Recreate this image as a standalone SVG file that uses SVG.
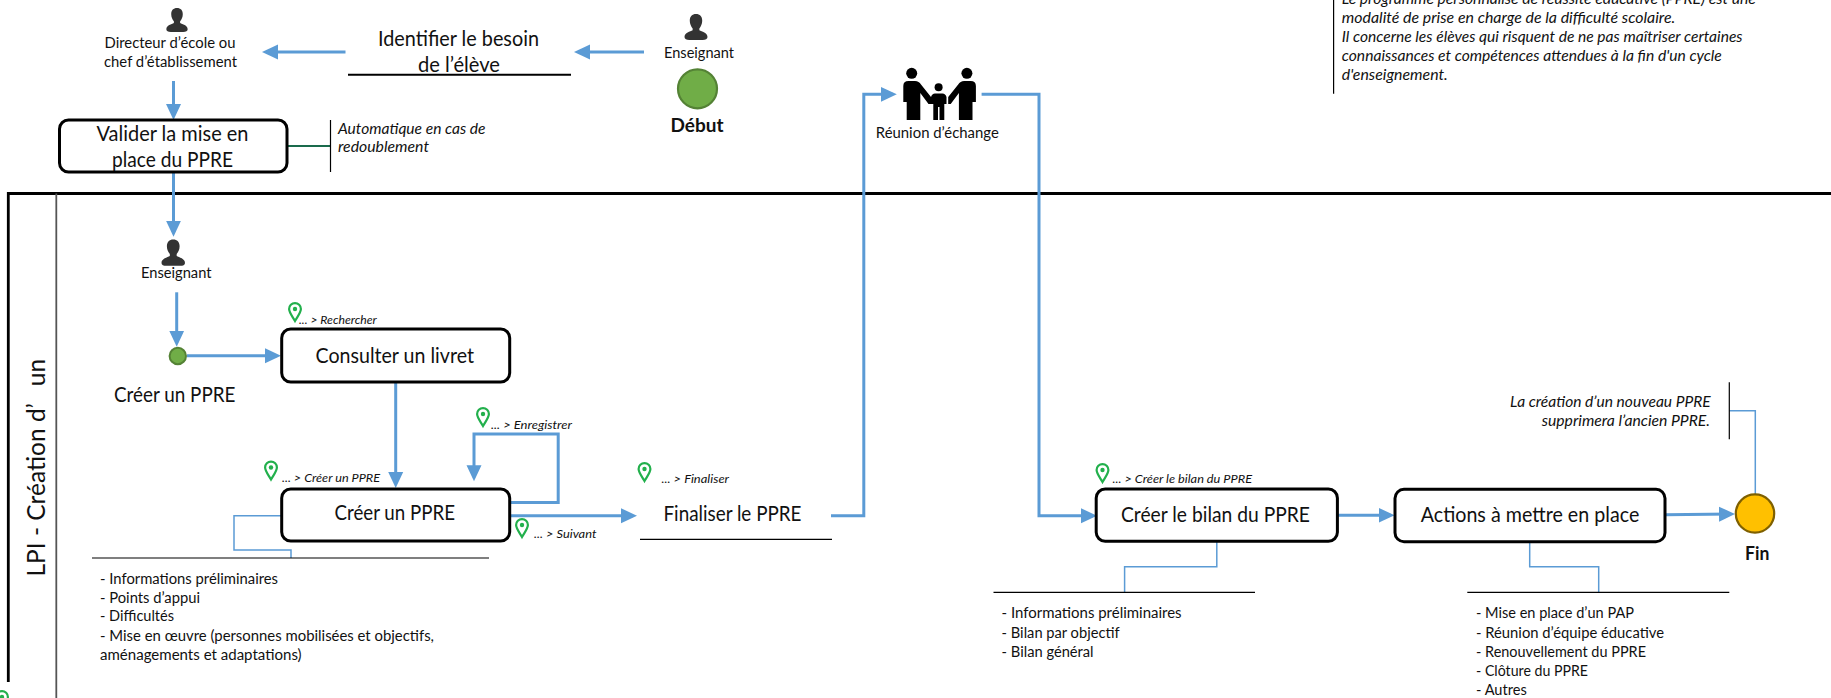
<svg xmlns="http://www.w3.org/2000/svg" width="1831" height="698" viewBox="0 0 1831 698">
<style>
text{font-family:"Lato","Open Sans","Liberation Sans",sans-serif;fill:#111}
.t20{font-size:20.5px}
.t14{font-size:14.5px}
.it{font-size:14.5px;font-style:italic}
.nav{font-size:11px;font-style:italic}
.b{font-size:18px;font-weight:700}
.box{fill:#fff;stroke:#000;stroke-width:3}
.flow{fill:none;stroke:#5B9BD5;stroke-width:3;marker-end:url(#ah)}
.thin{fill:none;stroke:#5B9BD5;stroke-width:1.5}
.rule{stroke:#000;stroke-width:1.2;fill:none}
.lane{stroke:#000;stroke-width:2.8;fill:none}
</style>
<defs>
<marker id="ah" markerUnits="userSpaceOnUse" markerWidth="17" markerHeight="17" refX="12" refY="8" orient="auto"><path d="M0,0.5 L16,8 L0,15.5 Z" fill="#5B9BD5"/></marker>
<symbol id="person" viewBox="0 0 24 27" overflow="visible"><path fill="#333" d="M12,0 C16,0 18.5,2.5 18.5,7 C18.5,10.5 17,13 15.5,15 L15.5,17 C18,18.5 24,19.5 24,24 C24,26 22,27 19,27 L5,27 C2,27 0,26 0,24 C0,19.5 6,18.5 8.5,17 L8.5,15 C7,13 5.5,10.5 5.5,7 C5.5,2.5 8,0 12,0 Z"/></symbol>
<symbol id="pin" viewBox="0 0 14 20" overflow="visible"><path fill="none" stroke="#22B04C" stroke-width="2.2" d="M7,19 C4.5,14.5 1.1,10.5 1.1,7 A5.9,5.9 0 0 1 12.9,7 C12.9,10.5 9.5,14.5 7,19 Z"/><circle cx="7" cy="7" r="2.2" fill="#22B04C"/></symbol>
</defs>

<g id="swimlane">
<path class="lane" d="M1831,193.5 H8.3 V682"/>
<path d="M56.3,193.5 V698" stroke="#555" stroke-width="1.8" fill="none"/>
<text class="lane-title" transform="translate(44.5,576.5) rotate(-90)" style="font-size:24.5px"><tspan>LPI - Création d’</tspan><tspan dx="17">un</tspan></text>
</g>

<g id="connectors">
<path class="flow" d="M345.5,52 H266"/>
<path class="flow" d="M644,52 H578"/>
<path class="flow" d="M173.5,81 V116"/>
<path class="flow" d="M173.5,172 V232.7"/>
<path class="flow" d="M176.7,292.3 V342.7"/>
<path class="flow" d="M187,355.7 H277"/>
<path class="flow" d="M395.7,382 V484"/>
<path class="flow" d="M509.7,502.5 H558.2 V434 H474 V477.3"/>
<path class="flow" d="M509.7,515.7 H633"/>
<path class="flow" d="M831,515.7 H863.8 V94.3 H892.8"/>
<path class="flow" d="M981.6,94.3 H1039 V515.7 H1093"/>
<path class="flow" d="M1337.4,515.3 H1390.6"/>
<path class="flow" d="M1665,514.7 L1731,514"/>
<path d="M287,146 H330.5" fill="none" stroke="#1A6B4C" stroke-width="2"/>
<path class="thin" d="M281.7,515.7 H234 V550 H291 V558"/>
<path class="thin" d="M1216.8,541 V566.7 H1124.6 V592.3"/>
<path class="thin" d="M1529.7,541.7 V566.7 H1598.7 V592.3"/>
<path class="thin" d="M1729.3,410.7 H1755.3 V494"/>
</g>

<g id="directeur">
<use href="#person" x="165" y="8" width="24" height="24"/>
<text class="t14" x="104.5" y="48" textLength="131" lengthAdjust="spacingAndGlyphs">Directeur d’école ou</text>
<text class="t14" x="104" y="67" textLength="133" lengthAdjust="spacingAndGlyphs">chef d’établissement</text>
</g>

<g id="identifier">
<text class="t20" x="378" y="45.7" textLength="161" lengthAdjust="spacingAndGlyphs">Identifier le besoin</text>
<text class="t20" x="418" y="71.7" textLength="82" lengthAdjust="spacingAndGlyphs">de l’élève</text>
<path d="M348,74.7 H571" stroke="#000" stroke-width="2" fill="none"/>
</g>

<g id="enseignant-debut">
<use href="#person" x="684.5" y="14" width="23" height="26"/>
<text class="t14" x="664" y="57.5" textLength="70" lengthAdjust="spacingAndGlyphs">Enseignant</text>
<circle cx="697.5" cy="88.8" r="19.5" fill="#70AD47" stroke="#548235" stroke-width="2.2"/>
<text class="b" x="670.5" y="131.7" textLength="53" lengthAdjust="spacingAndGlyphs">Début</text>
</g>

<g id="valider">
<rect class="box" x="59.5" y="120" width="227.5" height="52" rx="9"/>
<text class="t20" x="96.5" y="141" textLength="152" lengthAdjust="spacingAndGlyphs">Valider la mise en</text>
<text class="t20" x="112" y="166.7" textLength="121" lengthAdjust="spacingAndGlyphs">place du PPRE</text>
</g>

<g id="note-redoublement">
<path class="rule" d="M330.5,120 V172" stroke-width="1"/>
<text class="it" x="338" y="133.5" textLength="147.5" lengthAdjust="spacingAndGlyphs">Automatique en cas de</text>
<text class="it" x="338" y="152" textLength="91" lengthAdjust="spacingAndGlyphs">redoublement</text>
</g>

<g id="reunion">
<g fill="#000">
<circle cx="911.7" cy="73.3" r="5.5"/>
<circle cx="966.9" cy="73.3" r="5.5"/>
<circle cx="938.6" cy="87.3" r="4"/>
<path d="M903.3,102 V86 Q903.3,81 908.5,81 H915 Q919,81 921,84.5 L931,97 V104 L928.5,104 L920.3,93 V120 H906.7 V102 Z"/>
<path d="M975.9,102 V86 Q975.9,81 970.7,81 H964.2 Q960.2,81 958.2,84.5 L948.2,97 V104 L950.7,104 L958.9,93 V120 H972.5 V102 Z"/>
<path d="M933.3,120 V104 H931 V97 Q932,93.5 935,93.5 H942.5 Q945.5,93.5 946.5,97 V104 H944.3 V120 Z"/>
</g>
<rect x="938" y="107" width="1.5" height="13" fill="#fff"/>
<text class="t14" x="875.8" y="138.3" textLength="123" lengthAdjust="spacingAndGlyphs">Réunion d’échange</text>
</g>

<g id="note-ppre">
<path class="rule" d="M1333.6,0 V93.7" stroke="#333" stroke-width="1"/>
<text class="it" x="1341.8" y="3.5" textLength="414" lengthAdjust="spacingAndGlyphs">Le programme personnalisé de réussite éducative (PPRE) est une</text>
<text class="it" x="1341.8" y="22.7" textLength="333.5" lengthAdjust="spacingAndGlyphs">modalité de prise en charge de la difficulté scolaire.</text>
<text class="it" x="1341.8" y="41.5" textLength="400.8" lengthAdjust="spacingAndGlyphs">Il concerne les élèves qui risquent de ne pas maîtriser certaines</text>
<text class="it" x="1341.8" y="60.7" textLength="380" lengthAdjust="spacingAndGlyphs">connaissances et compétences attendues à la fin d'un cycle</text>
<text class="it" x="1341.8" y="80" textLength="106" lengthAdjust="spacingAndGlyphs">d'enseignement.</text>
</g>

<g id="enseignant-2">
<use href="#person" x="161.5" y="239.3" width="23.5" height="26.7"/>
<text class="t14" x="141" y="278.3" textLength="70.5" lengthAdjust="spacingAndGlyphs">Enseignant</text>
</g>

<g id="creer-start">
<circle cx="177.8" cy="356" r="8.2" fill="#70AD47" stroke="#548235" stroke-width="2"/>
<text class="t20" x="114" y="401.7" textLength="121.4" lengthAdjust="spacingAndGlyphs">Créer un PPRE</text>
</g>

<g id="consulter">
<rect class="box" x="281.7" y="329" width="228" height="53" rx="9"/>
<text class="t20" x="315.5" y="363.3" textLength="158.5" lengthAdjust="spacingAndGlyphs">Consulter un livret</text>
<use href="#pin" x="288" y="302" width="14" height="20"/>
<text class="nav" x="299" y="324" textLength="77.7" lengthAdjust="spacingAndGlyphs">... &gt; Rechercher</text>
</g>

<g id="creer">
<rect class="box" x="281.7" y="489" width="228" height="52" rx="9"/>
<text class="t20" x="334.5" y="520.3" textLength="120.6" lengthAdjust="spacingAndGlyphs">Créer un PPRE</text>
<use href="#pin" x="264" y="460.5" width="14" height="20"/>
<text class="nav" x="282" y="482" textLength="98" lengthAdjust="spacingAndGlyphs">... &gt; Créer un PPRE</text>
<use href="#pin" x="476" y="407" width="14" height="20"/>
<text class="nav" x="491" y="429" textLength="81" lengthAdjust="spacingAndGlyphs">... &gt; Enregistrer</text>
<use href="#pin" x="515" y="518" width="14" height="20"/>
<text class="nav" x="534" y="537.7" textLength="62.5" lengthAdjust="spacingAndGlyphs">... &gt; Suivant</text>
</g>

<g id="creer-details">
<path class="rule" d="M92,558 H489"/>
<text class="t14" x="100" y="584" textLength="178" lengthAdjust="spacingAndGlyphs">- Informations préliminaires</text>
<text class="t14" x="100" y="603" textLength="100" lengthAdjust="spacingAndGlyphs">- Points d’appui</text>
<text class="t14" x="100" y="621.3" textLength="74" lengthAdjust="spacingAndGlyphs">- Difficultés</text>
<text class="t14" x="100" y="641.3" textLength="334" lengthAdjust="spacingAndGlyphs">- Mise en œuvre (personnes mobilisées et objectifs,</text>
<text class="t14" x="100" y="659.7" textLength="201.6" lengthAdjust="spacingAndGlyphs">aménagements et adaptations)</text>
</g>

<g id="finaliser">
<use href="#pin" x="637.5" y="462" width="14" height="20"/>
<text class="nav" x="661.5" y="483" textLength="67.5" lengthAdjust="spacingAndGlyphs">... &gt; Finaliser</text>
<text class="t20" x="663.5" y="520.7" textLength="138" lengthAdjust="spacingAndGlyphs">Finaliser le PPRE</text>
<path class="rule" d="M640,539.3 H832"/>
</g>

<g id="bilan">
<rect class="box" x="1096.2" y="489" width="241.2" height="52.3" rx="9"/>
<text class="t20" x="1121" y="522.3" textLength="189" lengthAdjust="spacingAndGlyphs">Créer le bilan du PPRE</text>
<use href="#pin" x="1095.5" y="463" width="14" height="20"/>
<text class="nav" x="1112.5" y="483.3" textLength="139.5" lengthAdjust="spacingAndGlyphs">... &gt; Créer le bilan du PPRE</text>
</g>

<g id="bilan-details">
<path class="rule" d="M993.5,592.3 H1255"/>
<text class="t14" x="1001.6" y="618.3" textLength="180" lengthAdjust="spacingAndGlyphs">- Informations préliminaires</text>
<text class="t14" x="1001.6" y="638.3" textLength="118" lengthAdjust="spacingAndGlyphs">- Bilan par objectif</text>
<text class="t14" x="1001.6" y="657.3" textLength="92" lengthAdjust="spacingAndGlyphs">- Bilan général</text>
</g>

<g id="actions">
<rect class="box" x="1395" y="489.3" width="270" height="52.4" rx="9"/>
<text class="t20" x="1420.7" y="522.3" textLength="218.6" lengthAdjust="spacingAndGlyphs">Actions à mettre en place</text>
</g>

<g id="actions-details">
<path class="rule" d="M1467.3,592.3 H1729.3"/>
<text class="t14" x="1476" y="618.3" textLength="158" lengthAdjust="spacingAndGlyphs">- Mise en place d’un PAP</text>
<text class="t14" x="1476" y="638.3" textLength="188" lengthAdjust="spacingAndGlyphs">- Réunion d’équipe éducative</text>
<text class="t14" x="1476" y="657.3" textLength="170" lengthAdjust="spacingAndGlyphs">- Renouvellement du PPRE</text>
<text class="t14" x="1476" y="676" textLength="112" lengthAdjust="spacingAndGlyphs">- Clôture du PPRE</text>
<text class="t14" x="1476" y="695" textLength="50.7" lengthAdjust="spacingAndGlyphs">- Autres</text>
</g>

<g id="fin">
<circle cx="1755" cy="513.5" r="19.2" fill="#FFC000" stroke="#7F6000" stroke-width="2.2"/>
<text class="b" x="1745" y="560" textLength="24.3" lengthAdjust="spacingAndGlyphs">Fin</text>
</g>

<g id="note-fin">
<path class="rule" d="M1729.3,382.3 V439.3" stroke-width="1"/>
<text class="it" x="1510" y="406.7" textLength="200.7" lengthAdjust="spacingAndGlyphs">La création d’un nouveau PPRE</text>
<text class="it" x="1541.7" y="425.7" textLength="168.3" lengthAdjust="spacingAndGlyphs">supprimera l’ancien PPRE.</text>
</g>

<g id="pin-partial">
<use href="#pin" x="-5" y="690" width="14" height="20"/>
</g>
</svg>
